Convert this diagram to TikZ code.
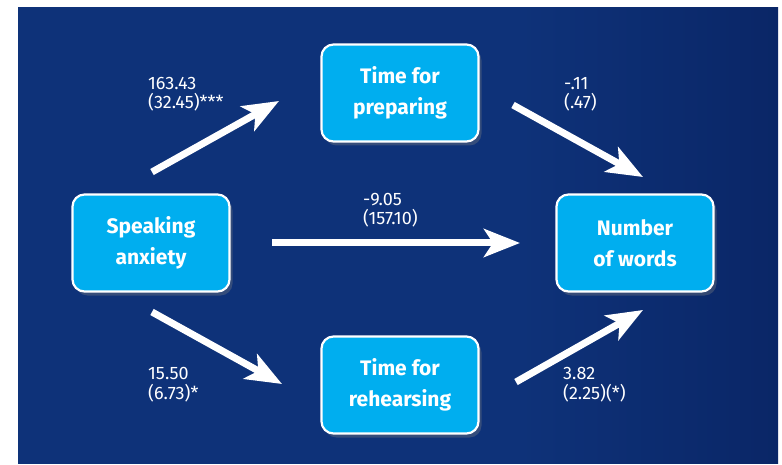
\documentclass[tikz,border=0pt]{standalone}
\usepackage{fontspec}
\setmainfont{Fira Sans}
\usetikzlibrary{arrows.meta,shadows}

\definecolor{bgblue}{RGB}{14,50,121}
\definecolor{bgdark}{RGB}{5,21,76}
\definecolor{boxcyan}{RGB}{0,174,239}
\pgfdeclarehorizontalshading{bgshade}{100bp}{color(0bp)=(bgblue); color(58bp)=(bgblue); color(100bp)=(bgdark)}

\tikzset{
  varbox/.style={draw=white, line width=2.2pt, fill=boxcyan, rounded corners=12pt,
    minimum width=157pt, minimum height=97pt, align=center, text=white,
    font=\fontsize{21}{31}\selectfont\bfseries,
    drop shadow={opacity=0.35, shadow xshift=3pt, shadow yshift=-4pt}},
  patharrow/.style={draw=white, line width=7pt,
    -{Stealth[length=36pt, width=28pt, inset=9pt]}},
  coeflabel/.style={text=white, align=left, anchor=base west, inner sep=0pt,
    font=\fontsize{18}{19.5}\selectfont}
}

\begin{document}
\begin{tikzpicture}[x=1pt, y=-1pt]
    \useasboundingbox (0,0) rectangle (782,465);
    %background
    \fill[white] (0,0) rectangle (782,465);
    \shade[shading=bgshade] (18,8) rectangle (778,463);

    %boxes
    \node[varbox] (anx) at (151,243) {Speaking\\anxiety};
    \node[varbox] (prep) at (400,93) {Time for\\preparing};
    \node[varbox] (reh) at (400,385) {Time for\\rehearsing};
    \node[varbox] (words) at (635,243) {Number\\of words};

    %arrows
    \coordinate (ap1) at (152,172);
    \coordinate (ap2) at (279,101);
    \coordinate (pw1) at (513,105);
    \coordinate (pw2) at (643,177);
    \coordinate (aw1) at (272,243);
    \coordinate (aw2) at (520,243);
    \coordinate (ar1) at (152,312);
    \coordinate (ar2) at (282,384);
    \coordinate (rw1) at (516,382);
    \coordinate (rw2) at (643,310);
    \draw[patharrow] (ap1) -- (ap2);
    \draw[patharrow] (pw1) -- (pw2);
    \draw[patharrow] (aw1) -- (aw2);
    \draw[patharrow] (ar1) -- (ar2);
    \draw[patharrow] (rw1) -- (rw2);

    %labels (base = last line)
    \node[coeflabel] (lap) at (148,109) {163.43\\(32.45)***};
    \node[coeflabel] (lpw) at (564,109) {-.11\\(.47)};
    \node[coeflabel] (law) at (363,225) {-9.05\\(157.10)};
    \node[coeflabel] (lar) at (148,399) {15.50\\(6.73)*};
    \node[coeflabel] (lrw) at (563,399) {3.82\\(2.25)(*)};
\end{tikzpicture}
\end{document}
